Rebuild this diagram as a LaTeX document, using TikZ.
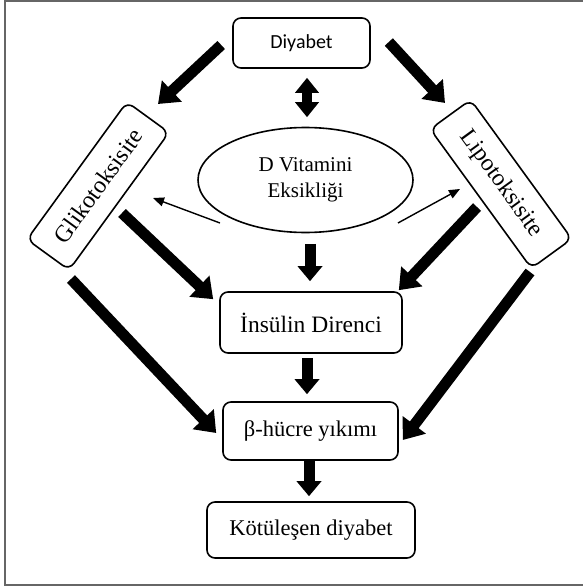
\documentclass[tikz,border=0pt]{standalone}
\usepackage{fontspec}
\setmainfont{Liberation Serif}
\newfontfamily\calfont{Carlito}
\usetikzlibrary{arrows.meta,shapes.geometric,calc}
\tikzset{
  box/.style={draw, line width=1.6pt, rounded corners=8pt, inner sep=0pt, align=center},
  bigarrow/.style={line width=11pt, -{Triangle[width=28pt,length=19pt]}},
  vertarrow/.style={line width=11pt, -{Triangle[width=24pt,length=15pt]}},
  dblarrow/.style={line width=10pt, {Triangle[width=23pt,length=15pt]}-{Triangle[width=23pt,length=15pt]}},
  thinarrow/.style={line width=1.4pt, -{Triangle[width=9pt,length=11pt]}},
  framecol/.style={draw=black!60, line width=2pt}
}
\begin{document}
\begin{tikzpicture}[x=1pt,y=-1pt]
\useasboundingbox (0,0) rectangle (583,586);
\draw[framecol] (590,1) -- (5,1) -- (5,585) -- (590,585);

\node[box, minimum width=137pt, minimum height=50pt, font=\calfont\fontsize{20}{24}\selectfont] (dy) at (301.5,43) {Diyabet};
\node[draw, line width=1.6pt, ellipse, minimum width=215pt, minimum height=105pt, inner sep=0pt, align=center, font=\fontsize{21}{26.5}\selectfont] (ell) at (305.5,180) {D Vitamini\\Eksikliği};
\node[box, rotate=54, minimum width=170pt, minimum height=52pt, font=\fontsize{24}{28}\selectfont] (gl) at (98,186) {Glikotoksisite};
\node[box, rotate=-54, minimum width=172pt, minimum height=50pt, font=\fontsize{24}{28}\selectfont] (lp) at (501,184) {Lipotoksisite};
\node[box, minimum width=182pt, minimum height=61pt, font=\fontsize{23.5}{28}\selectfont] (ins) at (311,322.5) {İnsülin Direnci};
\node[box, minimum width=175pt, minimum height=58pt, font=\fontsize{22.5}{27}\selectfont] (beta) at (310.5,431) {β-hücre yıkımı};
\node[box, minimum width=208pt, minimum height=56pt, font=\fontsize{22.5}{27}\selectfont] (kot) at (311,530) {Kötüleşen diyabet};

% arrows
\draw[bigarrow] ($(dy.west)+(-11,2)$) -- ($(gl.center)+(60,-82)$);
\draw[bigarrow] ($(dy.east)+(18,-1)$) -- ($(lp.center)+(-56,-81)$);
\draw[dblarrow] ($(dy.south)+(5.5,9)$) -- ($(ell.north)+(1.5,-9.5)$);
\draw[thinarrow] ($(ell.center)+(-85.5,43)$) -- ($(gl.center)+(55,12)$);
\draw[thinarrow] ($(ell.center)+(92.5,43)$) -- ($(lp.center)+(-41,5)$);
\draw[vertarrow] ($(ell.south)+(4.5,10.5)$) -- ($(ins.north)+(-1,-10)$);
\draw[bigarrow] ($(gl.center)+(24,27)$) -- ($(ins.north west)+(-6,8)$);
\draw[bigarrow] ($(lp.center)+(-24,23)$) -- ($(ins.north east)+(-4,-1)$);
\draw[bigarrow] ($(gl.center)+(-27,93)$) -- ($(beta.west)+(-6,2)$);
\draw[bigarrow] ($(lp.center)+(29,88)$) -- ($(beta.east)+(4,9)$);
\draw[vertarrow] ($(ins.south)+(-4,4)$) -- ($(beta.north)+(-3.5,-7)$);
\draw[vertarrow] ($(beta.south)+(-1.5,0)$) -- ($(kot.north)+(-2,-5)$);
\end{tikzpicture}
\end{document}
